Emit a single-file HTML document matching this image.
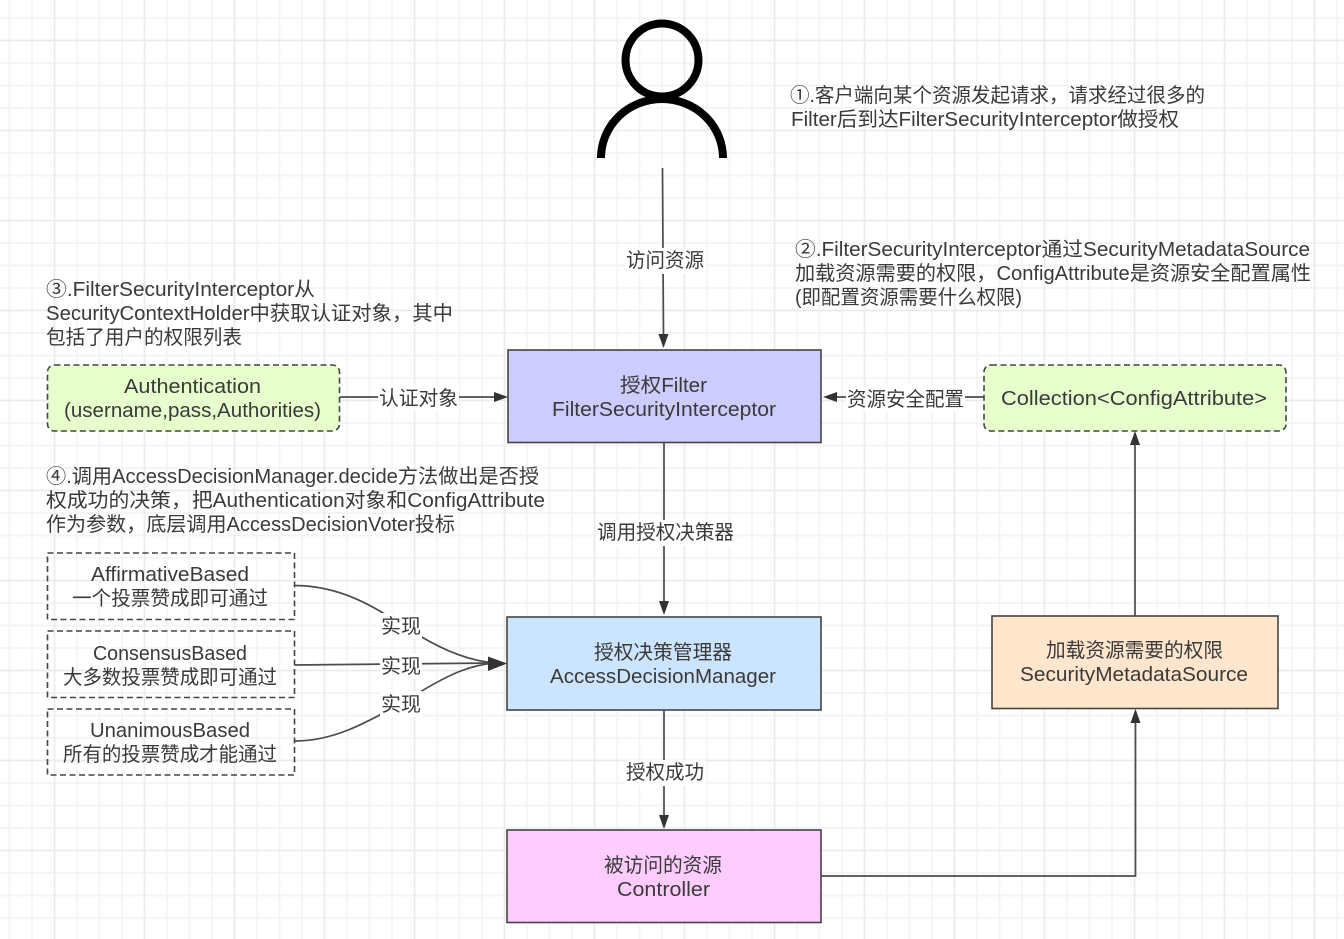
<!DOCTYPE html>
<html lang="zh"><head><meta charset="utf-8"><title>Diagram</title>
<style>
html,body{margin:0;padding:0;background:#fff;width:1344px;height:939px;overflow:hidden}
svg{display:block}
text{font-family:"Liberation Sans","Noto Sans CJK SC",sans-serif;font-size:20px;fill:#3a3a3a;white-space:pre}
.b{fill:none;stroke:#444;stroke-width:1.6}
.d{stroke-dasharray:6 3.5}
.c{fill:none;stroke:#4c4c4c;stroke-width:1.7}
.a{fill:#333;stroke:none}
</style></head><body>
<svg width="1344" height="939" viewBox="0 0 1344 939" xmlns="http://www.w3.org/2000/svg">
<defs>
<pattern id="g" x="44.5" y="30.5" width="90" height="90" patternUnits="userSpaceOnUse">
<g stroke="#f4f4f4" stroke-width="1.7">
<path d="M32.5 0V90M55 0V90M77.5 0V90M0 32.5H90M0 55H90M0 77.5H90"/>
</g>
<g stroke="#ebebeb" stroke-width="1.7"><path d="M10 0V90M0 10H90"/></g>
</pattern>
</defs>
<rect width="1344" height="939" fill="#fff"/>
<rect width="1344" height="939" fill="url(#g)"/>

<!-- person -->
<g fill="none" stroke="#000" stroke-width="8">
<circle cx="662" cy="60" r="36.500"/>
<path d="M601 158A61 59 0 0 1 723 158"/>
</g>

<!-- boxes -->
<rect x="508" y="350" width="313" height="92.500" style="fill:#ccccff" class="b"/>
<rect x="507" y="617" width="314" height="93" style="fill:#cce5ff" class="b"/>
<rect x="507" y="830" width="314" height="92.500" style="fill:#ffccff" class="b"/>
<rect x="992" y="616" width="286" height="92.500" style="fill:#ffe6cc" class="b"/>
<rect x="47.500" y="365" width="292" height="66" rx="7" style="fill:#e6ffcc" class="b d"/>
<rect x="984" y="365" width="302" height="66" rx="7" style="fill:#e6ffcc" class="b d"/>
<rect x="47.500" y="553" width="247" height="66.500" class="b d"/>
<rect x="47.500" y="631" width="247" height="66.500" class="b d"/>
<rect x="47.500" y="709" width="247" height="66" class="b d"/>

<!-- connectors -->
<path class="c" d="M662.500 168L663.500 336"/>
<path class="a" d="M663.500 348L658.500 334H668.500Z"/>
<path class="c" d="M664 442.500V603"/>
<path class="a" d="M664 615L659 601H669Z"/>
<path class="c" d="M664 710V816"/>
<path class="a" d="M664 829L659 815H669Z"/>
<path class="c" d="M340 397H495"/>
<path class="a" d="M508 397L494 392V402Z"/>
<path class="c" d="M984 397H835"/>
<path class="a" d="M823 397L837 392V402Z"/>
<path class="c" d="M1135 616V444"/>
<path class="a" d="M1135 431L1130 445H1140Z"/>
<path class="c" d="M821 876H1135.500V722"/>
<path class="a" d="M1135.500 709L1130.500 723H1140.500Z"/>

<path class="c" d="M295 585.500C350 586 385 615 420 636C445 651 470 661 495 663"/>
<path class="c" d="M295 665L495 663"/>
<path class="c" d="M295 741C330 741 360 728 420 692C450 674 470 665 495 663"/>
<path class="a" d="M507 663.500L488 656.500V671Z"/>

<!-- connector labels -->
<g fill="#fff">
<rect x="625" y="248" width="80" height="26"/>
<rect x="596" y="520" width="139" height="26"/>
<rect x="625" y="760" width="80" height="26"/>
<rect x="378" y="385" width="81" height="26"/>
<rect x="846" y="385" width="119" height="26"/>
<rect x="380" y="613" width="42" height="26"/>
<rect x="380" y="653" width="42" height="26"/>
<rect x="380" y="691" width="42" height="26"/>
</g>
<text x="626" y="267" textLength="78" lengthAdjust="spacingAndGlyphs">访问资源</text>
<text x="597" y="539" textLength="137" lengthAdjust="spacingAndGlyphs">调用授权决策器</text>
<text x="626" y="779" textLength="78" lengthAdjust="spacingAndGlyphs">授权成功</text>
<text x="379" y="405" textLength="79" lengthAdjust="spacingAndGlyphs">认证对象</text>
<text x="847" y="406" textLength="117" lengthAdjust="spacingAndGlyphs">资源安全配置</text>
<text x="381" y="633" textLength="40" lengthAdjust="spacingAndGlyphs">实现</text>
<text x="381" y="673" textLength="40" lengthAdjust="spacingAndGlyphs">实现</text>
<text x="381" y="711" textLength="40" lengthAdjust="spacingAndGlyphs">实现</text>

<!-- box labels -->
<text x="620" y="392" textLength="87" lengthAdjust="spacingAndGlyphs">授权Filter</text>
<text x="552" y="416" textLength="224" lengthAdjust="spacingAndGlyphs">FilterSecurityInterceptor</text>
<text x="594" y="659" textLength="138" lengthAdjust="spacingAndGlyphs">授权决策管理器</text>
<text x="550" y="683" textLength="226" lengthAdjust="spacingAndGlyphs">AccessDecisionManager</text>
<text x="604" y="872" textLength="118" lengthAdjust="spacingAndGlyphs">被访问的资源</text>
<text x="617" y="896" textLength="93" lengthAdjust="spacingAndGlyphs">Controller</text>
<text x="1046" y="657" textLength="177" lengthAdjust="spacingAndGlyphs">加载资源需要的权限</text>
<text x="1020" y="681" textLength="228" lengthAdjust="spacingAndGlyphs">SecurityMetadataSource</text>
<text x="124" y="393" textLength="137" lengthAdjust="spacingAndGlyphs">Authentication</text>
<text x="64" y="417" textLength="257" lengthAdjust="spacingAndGlyphs">(username,pass,Authorities)</text>
<text x="1001" y="405" textLength="266" lengthAdjust="spacingAndGlyphs">Collection&lt;ConfigAttribute&gt;</text>
<text x="91" y="581" textLength="158" lengthAdjust="spacingAndGlyphs">AffirmativeBased</text>
<text x="72" y="605" textLength="196" lengthAdjust="spacingAndGlyphs">一个投票赞成即可通过</text>
<text x="93" y="660" textLength="154" lengthAdjust="spacingAndGlyphs">ConsensusBased</text>
<text x="63" y="684" textLength="214" lengthAdjust="spacingAndGlyphs">大多数投票赞成即可通过</text>
<text x="90" y="737" textLength="160" lengthAdjust="spacingAndGlyphs">UnanimousBased</text>
<text x="63" y="761" textLength="214" lengthAdjust="spacingAndGlyphs">所有的投票赞成才能通过</text>

<!-- notes -->
<text x="790" y="102" textLength="415" lengthAdjust="spacingAndGlyphs">①.客户端向某个资源发起请求，请求经过很多的</text>
<text x="791" y="126" textLength="388" lengthAdjust="spacingAndGlyphs">Filter后到达FilterSecurityInterceptor做授权</text>
<text x="795" y="256" textLength="515" lengthAdjust="spacingAndGlyphs">②.FilterSecurityInterceptor通过SecurityMetadataSource</text>
<text x="795" y="280" textLength="516" lengthAdjust="spacingAndGlyphs">加载资源需要的权限，ConfigAttribute是资源安全配置属性</text>
<text x="795" y="304" textLength="227" lengthAdjust="spacingAndGlyphs">(即配置资源需要什么权限)</text>
<text x="46" y="296" textLength="269" lengthAdjust="spacingAndGlyphs">③.FilterSecurityInterceptor从</text>
<text x="46" y="320" textLength="407" lengthAdjust="spacingAndGlyphs">SecurityContextHolder中获取认证对象，其中</text>
<text x="46" y="344" textLength="196" lengthAdjust="spacingAndGlyphs">包括了用户的权限列表</text>
<text x="46" y="483" textLength="493" lengthAdjust="spacingAndGlyphs">④.调用AccessDecisionManager.decide方法做出是否授</text>
<text x="46" y="507" textLength="499" lengthAdjust="spacingAndGlyphs">权成功的决策，把Authentication对象和ConfigAttribute</text>
<text x="46" y="531" textLength="409" lengthAdjust="spacingAndGlyphs">作为参数，底层调用AccessDecisionVoter投标</text>
</svg>
</body></html>
